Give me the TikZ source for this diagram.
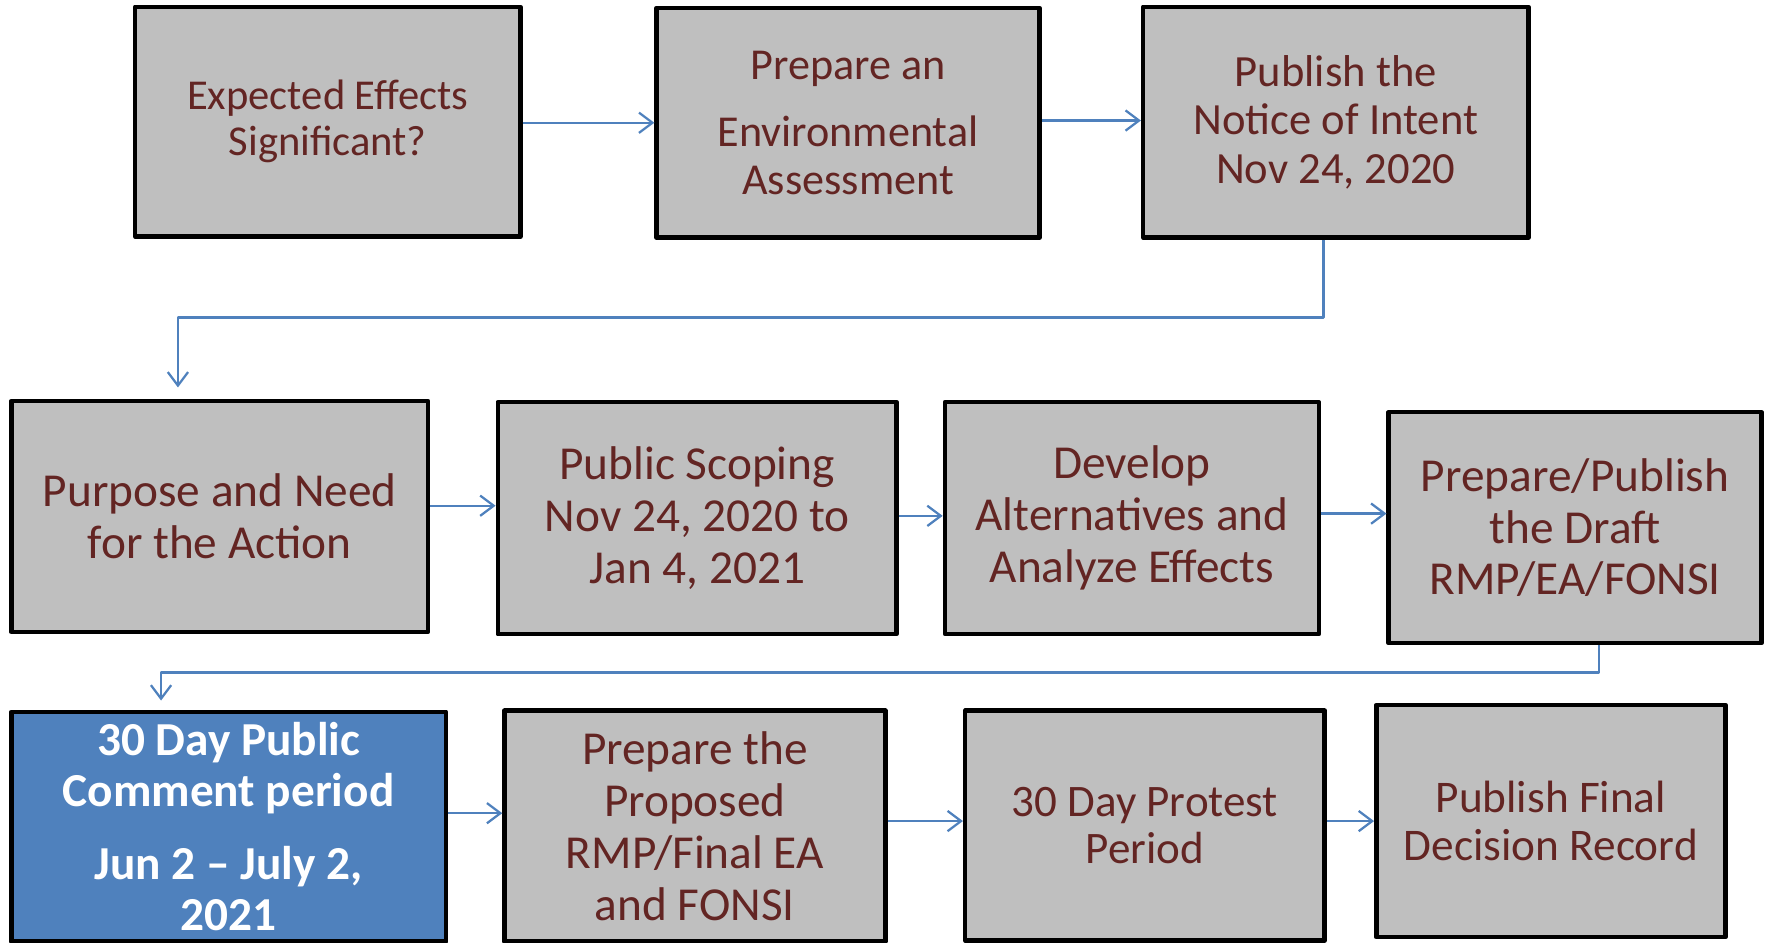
\documentclass[tikz,border=0pt]{standalone}
\usepackage{fontspec}
\setmainfont{Carlito}
\usetikzlibrary{arrows.meta}
\definecolor{boxgray}{HTML}{BFBFBF}
\definecolor{txtred}{HTML}{632523}
\definecolor{lineblue}{HTML}{4F81BD}
\begin{document}
\begin{tikzpicture}[x=0.5pt, y=-0.5pt, line join=round,
	box/.style={draw=black, line width=2pt, fill=boxgray, text=txtred, align=center, inner sep=0pt},
	bluebox/.style={box, fill=lineblue, text=white},
	arr/.style={draw=lineblue, line width=1pt, -{Straight Barb[length=6pt,width=9pt]}}]
	\useasboundingbox (0,0) rectangle (1568,837);
	% first row
	\node[box, minimum width=171pt, minimum height=102pt, font=\fontsize{18.9}{20.5}\selectfont] (exp) at (291,108) {Expected Effects\\Significant?};
	\node[box, minimum width=170pt, minimum height=102pt, font=\fontsize{19.6}{21}\selectfont] (env) at (753,109) {Prepare an\\[9pt]Environmental\\Assessment};
	\node[box, minimum width=171pt, minimum height=102.5pt, font=\fontsize{19.8}{21.5}\selectfont] (noi) at (1186,108.5) {Publish the\\Notice of Intent\\Nov 24, 2020};
	% second row
	\node[box, minimum width=185pt, minimum height=102.5pt, font=\fontsize{21}{23}\selectfont] (pur) at (195,458.5) {Purpose and Need\\for the Action};
	\node[box, minimum width=177pt, minimum height=103pt, font=\fontsize{21}{23}\selectfont] (scp) at (619,460) {Public Scoping\\Nov 24, 2020 to\\Jan 4, 2021};
	\node[box, minimum width=166pt, minimum height=103pt, font=\fontsize{21}{23}\selectfont] (alt) at (1005,460) {Develop\\Alternatives and\\Analyze Effects};
	\node[box, minimum width=165.5pt, minimum height=102.5pt, font=\fontsize{21}{23}\selectfont] (pdr) at (1398.5,468.5) {Prepare/Publish\\the Draft\\RMP/EA/FONSI};
	% third row
	\node[bluebox, minimum width=193pt, minimum height=102pt, font=\fontsize{21}{22.5}\selectfont\bfseries] (cmt) at (203,734) {30 Day Public\\Comment period\\[10pt]Jun 2 – July 2,\\2021};
	\node[box, minimum width=169pt, minimum height=102.5pt, font=\fontsize{21}{23}\selectfont] (prp) at (617,733.5) {Prepare the\\Proposed\\RMP/Final EA\\and FONSI};
	\node[box, minimum width=159.5pt, minimum height=102pt, font=\fontsize{20}{21}\selectfont] (pro) at (1016.5,733) {30 Day Protest\\Period};
	\node[box, minimum width=155pt, minimum height=103pt, font=\fontsize{20.1}{21.5}\selectfont] (rec) at (1377,729) {Publish Final\\Decision Record};
	% connectors
	\foreach \a/\b/\y in {exp/env/109, env/noi/107, pur/scp/449, scp/alt/458, alt/pdr/456, cmt/prp/722, prp/pro/729, pro/rec/729}
	\draw[arr] (\a.east |- 0,\y) -- (\b.west |- 0,\y);
	\coordinate (bend1) at (158,282);
	\coordinate (bend2) at (143,597);
	\draw[arr, shorten >=5pt] ([xshift=-5.5pt]noi.south) |- (bend1) -- (bend1 |- pur.north);
	\draw[arr, shorten >=4pt] ([xshift=10.75pt]pdr.south) |- (bend2) -- (bend2 |- cmt.north);
\end{tikzpicture}
\end{document}
